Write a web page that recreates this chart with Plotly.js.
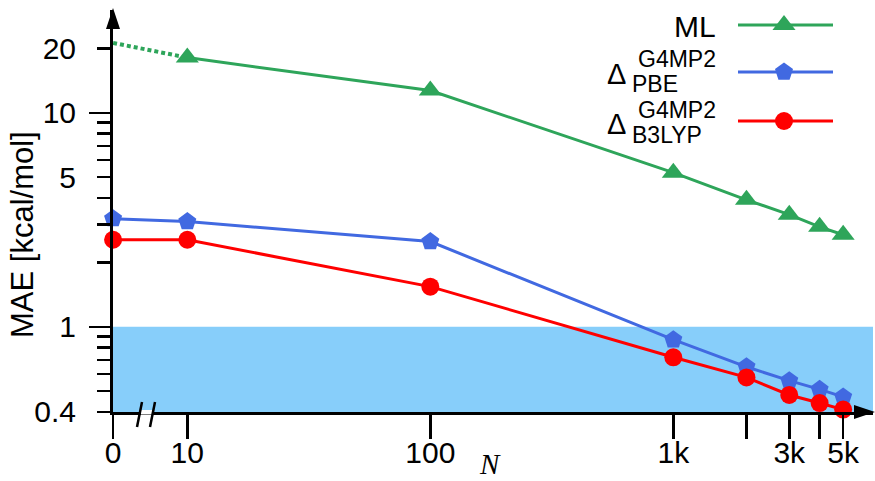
<!DOCTYPE html>
<html><head><meta charset="utf-8">
<script src="https://cdn.plot.ly/plotly-3.0.1.min.js"></script>
<style>html,body{margin:0;padding:0;background:#fff}#chart{width:875px;height:481px}</style>
</head><body><div id="chart"></div>
<script>
// ---- data ----
const N_ML = [10, 100, 1000, 2000, 3000, 4000, 5000];
const MAE_ML = [18.1, 12.7, 5.25, 3.92, 3.34, 2.93, 2.69];
const N_ML_EXTRAP = [0, 10];
const MAE_ML_EXTRAP = [21.2, 18.1];
const N_DELTA = [0, 10, 100, 1000, 2000, 3000, 4000, 5000];
const MAE_PBE = [3.2, 3.1, 2.5, 0.87, 0.65, 0.56, 0.51, 0.47];
const MAE_B3LYP = [2.55, 2.55, 1.54, 0.72, 0.58, 0.48, 0.44, 0.41];
const X_TICK_VALUES = [0, 10, 100, 1000, 2000, 3000, 4000, 5000];
const X_TICK_LABELS = ['0', '10', '100', '1k', '', '3k', '', '5k'];
const Y_TICK_VALUES = [0.4, 0.5, 0.6, 0.7, 0.8, 0.9, 1, 2, 3, 4, 5, 6, 7, 8, 9, 10, 20];
const Y_TICK_LABELS = ['0.4', '', '', '', '', '', '1', '', '', '', '5', '', '', '', '', '10', '20'];
const Y_LONG_TICKS = [1, 10];
const TARGET_BAND = [0.4, 1];
const SERIES_NAMES = ['ML', 'PBE', 'B3LYP'];

// ---- layout helpers ----
const W = 875, H = 481;
const L = 113, R = 873, T = 10, B = 412;     // plot area in pixels
const ZERO_POS = 4.95;                        // where N = 0 sits on the broken log axis
const xpos = n => (n === 0 ? ZERO_POS : n);
const X0 = Math.log10(ZERO_POS) - 0.0004;
const XR = [X0, X0 + (R - L) / 243];
const YR = [Math.log10(0.4) - 0.0004, Math.log10(0.4) - 0.0004 + (B - T) / 214];
const px = x => (x - L) / (R - L);
const py = y => (B - y) / (B - T);

const GREEN = '#2ea55a', BLUE = '#4169e1', RED = '#ff0000';
const FONT = 'Liberation Sans, Arial, sans-serif';

const traces = [
  { x: N_ML_EXTRAP.map(xpos), y: MAE_ML_EXTRAP, mode: 'lines', line: { color: GREEN, width: 4, dash: '4px,3px' }, showlegend: false, hoverinfo: 'skip', cliponaxis: false },
  { x: N_ML.map(xpos), y: MAE_ML, mode: 'lines+markers', name: SERIES_NAMES[0], line: { color: GREEN, width: 3 }, marker: { symbol: 'triangle-up', size: 20, color: GREEN }, cliponaxis: false },
  { x: N_DELTA.map(xpos), y: MAE_PBE, mode: 'lines+markers', name: SERIES_NAMES[1], line: { color: BLUE, width: 3 }, marker: { symbol: 'pentagon', size: 19, color: BLUE }, cliponaxis: false },
  { x: N_DELTA.map(xpos), y: MAE_B3LYP, mode: 'lines+markers', name: SERIES_NAMES[2], line: { color: RED, width: 3 }, marker: { symbol: 'circle', size: 18, color: RED }, cliponaxis: false },
  // dummy trace to register the long-tick overlay axis
  { x: [null], y: [null], xaxis: 'x', yaxis: 'y3', showlegend: false, hoverinfo: 'skip' }
];

// legend samples (drawn on a pixel-space overlay axis)
const LEG_LINE_X = [738, 833];
const LEG_MARK_X = [784];
const LEG_Y = [25, 72, 121];
const LEG_SYMBOLS = ['triangle-up', 'pentagon', 'circle'];
const LEG_SIZES = [20, 19, 18];
const LEG_COLORS = [GREEN, BLUE, RED];
LEG_Y.forEach((yy, i) => {
  traces.push({
    x: LEG_LINE_X, y: [yy, yy], xaxis: 'x2', yaxis: 'y2', mode: 'lines',
    line: { color: LEG_COLORS[i], width: 3 }, showlegend: false, hoverinfo: 'skip', cliponaxis: false
  });
  traces.push({
    x: LEG_MARK_X, y: [yy], xaxis: 'x2', yaxis: 'y2', mode: 'markers',
    marker: { symbol: LEG_SYMBOLS[i], size: LEG_SIZES[i], color: LEG_COLORS[i] },
    showlegend: false, hoverinfo: 'skip', cliponaxis: false
  });
});

const tickFont = { family: FONT, size: 30, color: '#000' };

const layout = {
  width: W, height: H,
  margin: { l: L, r: W - R, t: T, b: H - B, pad: 0 },
  paper_bgcolor: '#fff', plot_bgcolor: 'rgba(0,0,0,0)',
  showlegend: false,
  font: { family: FONT, color: '#000' },
  xaxis: {
    type: 'log', range: XR, showgrid: false, zeroline: false,
    showline: true, linecolor: '#000', linewidth: 3,
    tickmode: 'array', tickvals: X_TICK_VALUES.map(xpos), ticktext: X_TICK_LABELS,
    ticks: 'outside', ticklen: 24, tickwidth: 2.5, tickcolor: '#000',
    tickfont: tickFont, ticklabelstandoff: -12, fixedrange: true
  },
  yaxis: {
    type: 'log', range: YR, showgrid: false, zeroline: false,
    showline: true, linecolor: '#000', linewidth: 3,
    tickmode: 'array', tickvals: Y_TICK_VALUES, ticktext: Y_TICK_LABELS,
    ticks: 'outside', ticklen: 13, tickwidth: 2.5, tickcolor: '#000',
    tickfont: tickFont, ticklabelstandoff: 15, fixedrange: true
  },
  yaxis3: {
    type: 'log', range: YR, overlaying: 'y', anchor: 'x', side: 'left',
    showgrid: false, zeroline: false, showline: false,
    tickmode: 'array', tickvals: Y_LONG_TICKS, showticklabels: false,
    ticks: 'outside', ticklen: 23, tickwidth: 2.5, tickcolor: '#000', fixedrange: true
  },
  xaxis2: { range: [L, R], overlaying: 'x', visible: false, fixedrange: true },
  yaxis2: { range: [B, T], overlaying: 'y', visible: false, fixedrange: true },
  shapes: [
    { type: 'rect', xref: 'paper', yref: 'y', x0: 0, x1: 1, y0: TARGET_BAND[0], y1: TARGET_BAND[1], fillcolor: '#87cefa', line: { width: 0 }, layer: 'below' },
    // axis arrowheads
    { type: 'path', xref: 'paper', yref: 'paper', fillcolor: '#000', line: { width: 0 },
      path: `M${px(113)},${py(8)} L${px(106)},${py(29)} L${px(120)},${py(29)} Z` },
    { type: 'path', xref: 'paper', yref: 'paper', fillcolor: '#000', line: { width: 0 },
      path: `M${px(875)},${py(412)} L${px(854)},${py(405)} L${px(854)},${py(419)} Z` },
    // axis break marks
    { type: 'rect', xref: 'paper', yref: 'paper', x0: px(141), x1: px(152), y0: py(410), y1: py(414.5), fillcolor: '#fff', line: { width: 0 } },
    { type: 'line', xref: 'paper', yref: 'paper', x0: px(137), y0: py(427), x1: px(142), y1: py(402), line: { color: '#000', width: 2.5 } },
    { type: 'line', xref: 'paper', yref: 'paper', x0: px(150), y0: py(427), x1: px(155), y1: py(402), line: { color: '#000', width: 2.5 } }
  ],
  annotations: [
    { xref: 'paper', yref: 'paper', x: px(23), y: py(235), text: 'MAE [kcal/mol]', textangle: -90, showarrow: false,
      font: { family: FONT, size: 31, color: '#000' }, xanchor: 'center', yanchor: 'middle' },
    { xref: 'paper', yref: 'paper', x: px(490), y: py(464), text: '<i>N</i>', showarrow: false,
      font: { family: 'Liberation Serif, Times New Roman, serif', size: 29, color: '#000' }, xanchor: 'center', yanchor: 'middle' },
    // legend texts
    { xref: 'paper', yref: 'paper', x: px(718), y: py(26), text: 'ML', showarrow: false,
      font: { family: FONT, size: 30, color: '#000' }, xanchor: 'right', yanchor: 'middle' },
    { xref: 'paper', yref: 'paper', x: px(628), y: py(74), text: 'Δ', showarrow: false,
      font: { family: FONT, size: 29, color: '#000' }, xanchor: 'right', yanchor: 'middle' },
    { xref: 'paper', yref: 'paper', x: px(718), y: py(59), text: 'G4MP2', showarrow: false,
      font: { family: FONT, size: 23, color: '#000' }, xanchor: 'right', yanchor: 'middle' },
    { xref: 'paper', yref: 'paper', x: px(630), y: py(84), text: 'PBE', showarrow: false,
      font: { family: FONT, size: 23, color: '#000' }, xanchor: 'left', yanchor: 'middle' },
    { xref: 'paper', yref: 'paper', x: px(628), y: py(124), text: 'Δ', showarrow: false,
      font: { family: FONT, size: 29, color: '#000' }, xanchor: 'right', yanchor: 'middle' },
    { xref: 'paper', yref: 'paper', x: px(718), y: py(110), text: 'G4MP2', showarrow: false,
      font: { family: FONT, size: 23, color: '#000' }, xanchor: 'right', yanchor: 'middle' },
    { xref: 'paper', yref: 'paper', x: px(630), y: py(135), text: 'B3LYP', showarrow: false,
      font: { family: FONT, size: 23, color: '#000' }, xanchor: 'left', yanchor: 'middle' }
  ]
};

Plotly.newPlot('chart', traces, layout, { displayModeBar: false, staticPlot: true });
</script>
</body></html>
